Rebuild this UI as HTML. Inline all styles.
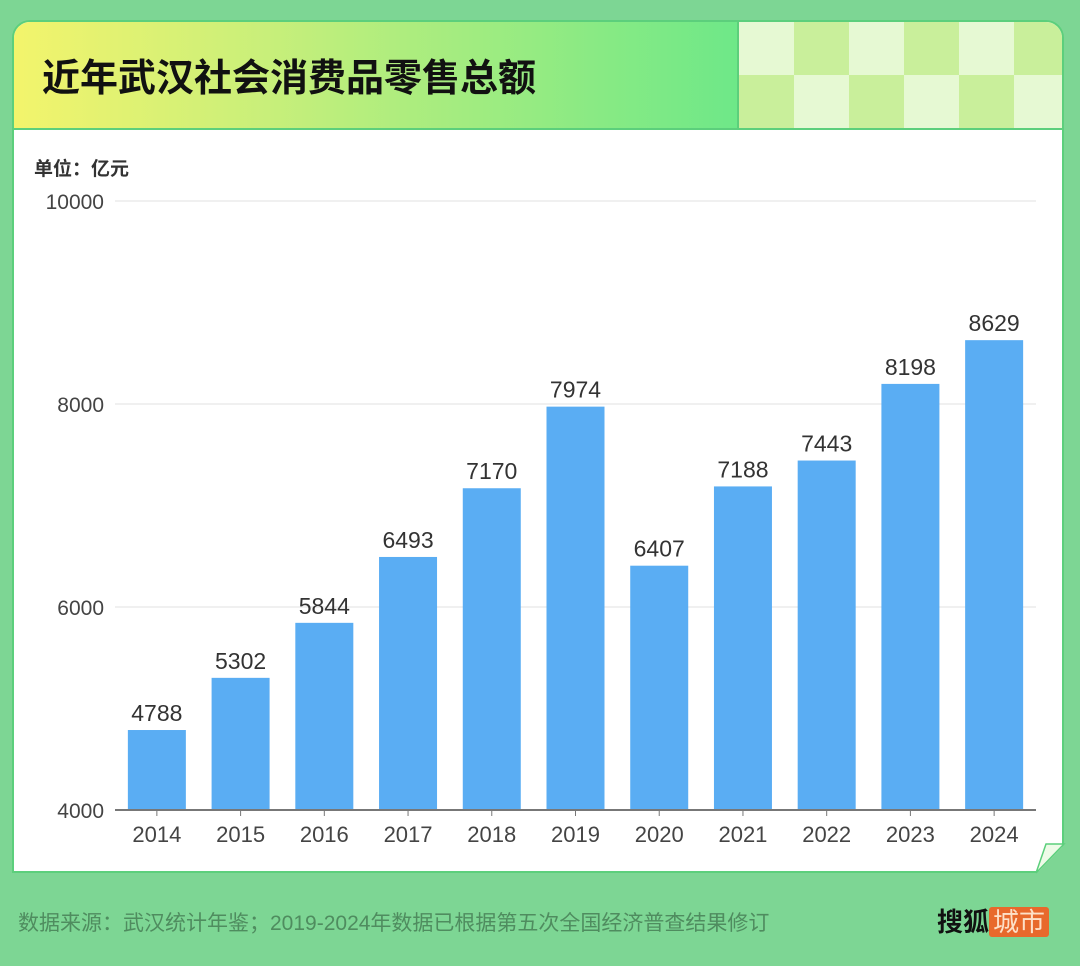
<!DOCTYPE html>
<html><head><meta charset="utf-8"><style>
body{margin:0;width:1080px;height:966px;background:#7dd694;font-family:"Liberation Sans","Noto Sans CJK SC",sans-serif;position:relative;overflow:hidden}
.card{position:absolute;left:12px;top:20px;width:1052px;height:853px;background:#fff;border:2px solid #5ccf7c;border-radius:18px 18px 0 0;box-sizing:border-box;overflow:hidden}
.hdr{position:absolute;left:0;top:0;width:723px;height:106px;background:linear-gradient(90deg,#f3f46c,#c8ef7a 35%,#6ee888 100%);border-bottom:2px solid #5ccf7c}
.chk{position:absolute;left:723px;top:0;width:330px;height:106px;border-left:2px solid #5ccf7c;border-bottom:2px solid #5ccf7c;display:grid;grid-template-columns:repeat(6,1fr);grid-template-rows:1fr 1fr}
.chk div:nth-child(odd){background:#e6f9d3}.chk div:nth-child(even){background:#c9ef9b}
.chk div:nth-child(n+7):nth-child(odd){background:#c9ef9b}.chk div:nth-child(n+7):nth-child(even){background:#e6f9d3}
h1{position:absolute;left:28px;top:30px;margin:0;font-size:38px;font-weight:bold;color:#111;font-family:"Noto Sans CJK SC",sans-serif;line-height:1.2}
.unit{position:absolute;left:34px;top:154px;font-size:19px;font-weight:bold;color:#333}
.foot{position:absolute;left:18px;top:907px;font-size:21px;color:#4f8c5f}
.logo{position:absolute;left:937px;top:902px;font-size:26px;font-weight:bold;color:#111}
.logo span{background:#e8692c;color:#fde0c8;padding:0 4px;border-radius:3px;font-weight:normal}
</style></head><body>
<div class="card">
<div class="hdr"></div>
<div class="chk"><div></div><div></div><div></div><div></div><div></div><div></div><div></div><div></div><div></div><div></div><div></div><div></div></div>
<h1>近年武汉社会消费品零售总额</h1>
</div>
<div class="unit">单位：亿元</div>
<svg id="chart" width="1080" height="966" style="position:absolute;left:0;top:0"></svg>
<div class="foot">数据来源：武汉统计年鉴；2019-2024年数据已根据第五次全国经济普查结果修订</div>
<div class="logo">搜狐<span>城市</span></div>
<script>
const categories=["2014","2015","2016","2017","2018","2019","2020","2021","2022","2023","2024"];
const values=[4788,5302,5844,6493,7170,7974,6407,7188,7443,8198,8629];
const yTicks=[4000,6000,8000,10000];
const svg=document.getElementById('chart');const NS='http://www.w3.org/2000/svg';
const x0=115,x1=1036,yMin=4000,yMax=10000,py0=810,py1=201;
const band=(x1-x0)/categories.length,bw=58;
const y=v=>py0-(v-yMin)/(yMax-yMin)*(py0-py1);
const xc=i=>x0+band*(i+0.5);
function mk(t,a){const e=document.createElementNS(NS,t);for(const k in a)e.setAttribute(k,a[k]);svg.appendChild(e);return e;}
yTicks.forEach(t=>{
 if(t>yMin){const g=mk('line',{x1:x0,x2:x1,y1:y(t),y2:y(t),stroke:'#e0e0e0','stroke-width':1});
 
 }
 const l=mk('text',{x:104,y:y(t)+8,'text-anchor':'end','font-size':21,fill:'#444','font-family':'Liberation Sans'});l.textContent=t;
 
 
});
values.forEach((v,i)=>{
 const r=mk('rect',{x:xc(i)-bw/2,y:y(v),width:bw,height:py0-y(v),fill:'#5aadf3'});
 
 
 const t=mk('text',{x:xc(i),y:y(v)-9,'text-anchor':'middle','font-size':23,fill:'#333','font-family':'Liberation Sans'});t.textContent=v;
 
 
 const c=mk('text',{x:xc(i),y:842,'text-anchor':'middle','font-size':22,fill:'#444','font-family':'Liberation Sans'});c.textContent=categories[i];
 
 
 const tk=mk('line',{x1:xc(i),x2:xc(i),y1:py0,y2:py0+6,stroke:'#777'});
 
 
});
const ax=mk('line',{x1:x0,x2:x1,y1:py0,y2:py0,stroke:'#777','stroke-width':2});


const curl=mk('path',{d:'M1036 873 L1064 844 L1046 844 Z',fill:'#eefbe8',stroke:'#5ccf7c','stroke-width':1.5});


const bg=mk('path',{d:'M1036 874 L1066 874 L1066 843 Z',fill:'#7dd694'});


</script>
</body></html>
